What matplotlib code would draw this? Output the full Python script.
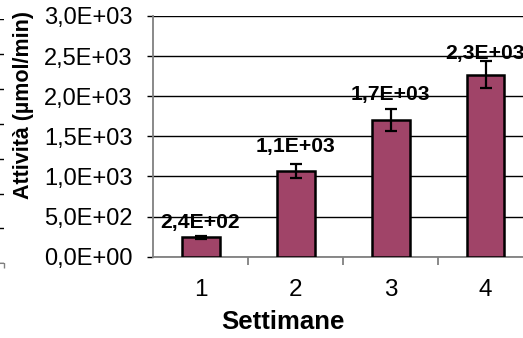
import matplotlib
matplotlib.use("Agg")
import matplotlib.pyplot as plt
import numpy as np

plt.rcParams['font.family'] = ['Liberation Sans', 'DejaVu Sans']

# Data
weeks = [1, 2, 3, 4]
activity = [240, 1070, 1700, 2270]      # µmol/min
activity_err = [18, 85, 137, 168]
y_ticks = [0, 500, 1000, 1500, 2000, 2500, 3000]
label_offsets_pt = [4.0, 11.0, 11.5, 8.0]  # vertical gap of value labels above bars

bar_color = '#A04468'
axis_gray = '#808080'


def sci_comma(v):
    return f"{v:.1E}".replace('.', ',')


W, H = 523, 338
fig = plt.figure(figsize=(W / 100, H / 100), dpi=100)

# Main plot area (extends slightly past the right border of the image)
left_px, right_px, top_px, bottom_px = 153, 533, 16, 256.7
ax = fig.add_axes([left_px / W, 1 - bottom_px / H,
                   (right_px - left_px) / W, (bottom_px - top_px) / H])

ax.bar(weeks, activity, width=0.4, color=bar_color, edgecolor='black',
       linewidth=1.8, zorder=3)
ax.errorbar(weeks, activity, yerr=activity_err, fmt='none', ecolor='black',
            elinewidth=1.6, capsize=4, capthick=1.6, zorder=4)

for x, v, off in zip(weeks, activity, label_offsets_pt):
    ax.annotate(sci_comma(v), xy=(x, v), xytext=(0, off),
                textcoords='offset points', ha='center', va='bottom',
                fontsize=15.2, fontweight='bold', zorder=5,
                annotation_clip=False)

ax.set_xlim(0.5, 4.5)
ax.set_ylim(0, 3000)
ax.set_yticks(y_ticks)
ax.set_yticklabels([sci_comma(v) for v in y_ticks])
ax.set_xticks(weeks)
ax.set_xticklabels([str(w) for w in weeks])
ax.set_xticks([1.5, 2.5, 3.5], minor=True)

ax.yaxis.grid(True, color='black', linewidth=1.0, zorder=0)
ax.set_axisbelow(True)

for s in ['top', 'right']:
    ax.spines[s].set_visible(False)
for s in ['left', 'bottom']:
    ax.spines[s].set_color(axis_gray)
    ax.spines[s].set_linewidth(1.3)
    ax.spines[s].set_zorder(2)

ax.tick_params(axis='y', direction='out', length=4.3, width=1.0,
               color='black', labelsize=17, pad=10.5)
ax.tick_params(axis='x', which='major', length=0, labelsize=17.5, pad=16)
ax.tick_params(axis='x', which='minor', direction='out', length=5.8,
               width=1.3, color=axis_gray)

ax.text(0.341, -0.273, 'Settimane', transform=ax.transAxes, ha='center',
        va='center', fontsize=18.5, fontweight='bold')
ax.text(-0.342, 0.630, 'Attività (µmol/min)', transform=ax.transAxes,
        ha='center', va='center', rotation=90, fontsize=15.5,
        fontweight='bold')

# Edge of the neighbouring chart on the left
edge = fig.add_axes([-20 / W, 1 - 263.3 / H, 23.5 / W, 244 / H])
edge.set_xlim(0, 1)
edge.set_ylim(0, 7)
edge.set_yticks(range(8))
edge.yaxis.grid(True, color='black', linewidth=1.0)
edge.set_xticks([1])
edge.tick_params(axis='x', direction='out', length=3.6, width=1.0,
                 color=axis_gray, labelbottom=False)
edge.tick_params(axis='y', length=0, labelleft=False)
for s in ['top', 'right', 'left']:
    edge.spines[s].set_visible(False)
edge.spines['bottom'].set_color(axis_gray)
edge.patch.set_visible(False)

fig.savefig('out.png', dpi=100)
